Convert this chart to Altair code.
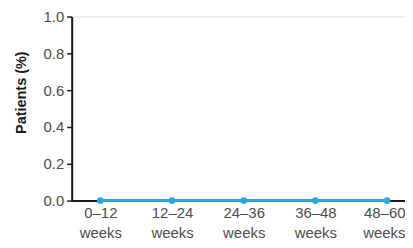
import altair as alt
import pandas as pd

periods = ["0\u201312", "12\u201324", "24\u201336", "36\u201348", "48\u201360"]
unit = "weeks"
patients_pct = [0.0, 0.0, 0.0, 0.0, 0.0]

df = pd.DataFrame({"idx": list(range(len(periods))), "period": periods, "value": patients_pct})

label_arr = "[" + ",".join("['%s','%s']" % (p, unit) for p in periods) + "]"

font = "Liberation Sans"

x = alt.X("idx:Q",
          scale=alt.Scale(domain=[-0.4, 4.25], nice=False, zero=False),
          axis=alt.Axis(values=list(range(len(periods))), labelExpr=label_arr + "[datum.value]",
                        title=None, ticks=False, grid=False, domainColor="#1a1a1a", domainWidth=2,
                        labelFont=font, labelFontSize=15, labelColor="#4d4d4d", labelPadding=5,
                        labelLineHeight=20.5, labelBaseline="top", labelFlush=20, labelFlushOffset=18,
                        labelOverlap=False))
y = alt.Y("value:Q",
          scale=alt.Scale(domain=[0, 1], nice=False),
          axis=alt.Axis(values=[0, 0.2, 0.4, 0.6, 0.8, 1.0], format=".1f", title="Patients (%)",
                        titleFont=font, titleFontSize=14.5, titleFontWeight="bold", titleColor="#1a1a1a",
                        titlePadding=15, titleY=76, grid=False, tickSize=5, tickColor="#1a1a1a", tickWidth=1.5,
                        domainColor="#1a1a1a", domainWidth=2, labelFont=font, labelFontSize=15,
                        labelColor="#4d4d4d", labelPadding=3))

line = alt.Chart(df).mark_line(color="#29a8e0", strokeWidth=3, clip=False).encode(x=x, y=y)
pts = alt.Chart(df).mark_circle(color="#29a8e0", size=45, opacity=1, clip=False).encode(x=x, y=y)

chart = alt.layer(line, pts).properties(
    width=335, height=185,
    autosize=alt.AutoSizeParams(type="none"),
    padding={"left": 64, "top": 8, "right": 0, "bottom": 40},
).configure_view(stroke=None).configure(background="white")

chart.save("out.html", embed_options={"renderer": "svg", "actions": False})
